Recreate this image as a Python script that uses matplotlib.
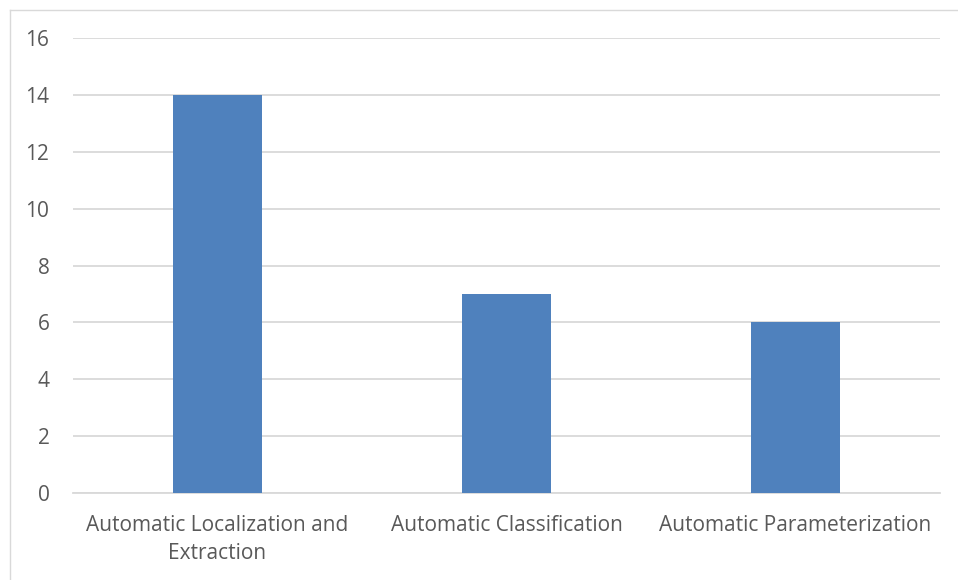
import matplotlib.pyplot as plt
from matplotlib.lines import Line2D

categories = ["Automatic Localization and\nExtraction",
              "Automatic Classification",
              "Automatic Parameterization"]
counts = [14, 7, 6]
yticks = [0, 2, 4, 6, 8, 10, 12, 14, 16]

fig = plt.figure(figsize=(9.58, 5.8), dpi=100)
W, H = 958, 580
ax = fig.add_axes([73 / W, 1 - 493 / H, (940 - 73) / W, (493 - 38) / H])

x = range(len(categories))
ax.bar(x, counts, width=0.31, color="#4F81BD", zorder=3)
ax.set_xlim(-0.5, len(categories) - 0.5)
ax.set_ylim(0, 16)
ax.set_yticks(yticks)
ax.set_xticks(list(x))
ax.set_xticklabels(categories, linespacing=1.45)
ax.yaxis.grid(True, color="#D9D9D9", linewidth=1.3, zorder=0)
for s in ["top", "right", "left"]:
    ax.spines[s].set_visible(False)
ax.spines["bottom"].set_color("#D9D9D9")
ax.spines["bottom"].set_linewidth(1.3)
ax.tick_params(length=0, labelsize=15, labelcolor="#595959")
ax.tick_params(axis="x", pad=16)
ax.tick_params(axis="y", pad=17)
for t in ax.get_xticklabels() + ax.get_yticklabels():
    t.set_family("Open Sans")

# chart frame (only top and left edges fall inside the image)
fig.add_artist(Line2D([9.5 / W, 9.5 / W], [0, 1 - 9.5 / H], transform=fig.transFigure,
                      color="#D9D9D9", linewidth=1))
fig.add_artist(Line2D([9.5 / W, 1], [1 - 9.5 / H, 1 - 9.5 / H], transform=fig.transFigure,
                      color="#D9D9D9", linewidth=1))

fig.savefig("out.png", dpi=100)
